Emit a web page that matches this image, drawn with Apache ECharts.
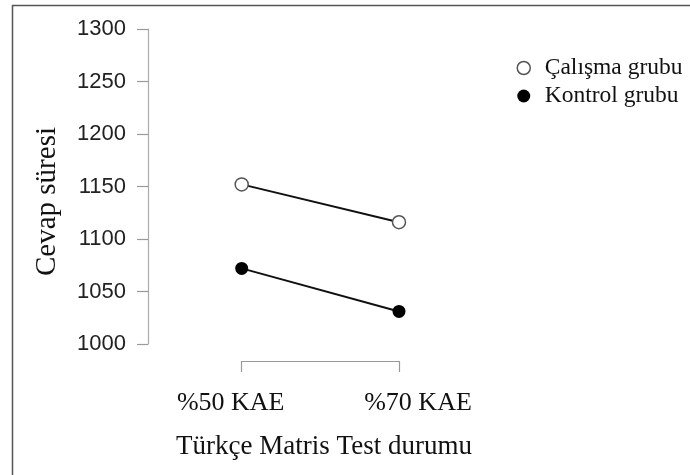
<!DOCTYPE html>
<html>
<head>
<meta charset="utf-8">
<script src="https://cdn.jsdelivr.net/npm/echarts@6/dist/echarts.min.js"></script>
<style>html,body{margin:0;padding:0;background:#fff;}#c{width:690px;height:475px;}</style>
</head>
<body>
<div id="c"></div>
<script>
var categories = ['%50 KAE', '%70 KAE'];
var seriesNames = ['Çalışma grubu', 'Kontrol grubu'];
var calismaValues = [1152, 1116];
var kontrolValues = [1072, 1031];
var yTicks = [1000, 1050, 1100, 1150, 1200, 1250, 1300];
var xTitle = 'Türkçe Matris Test durumu';
var yTitle = 'Cevap süresi';

var serif = '"Liberation Serif", "DejaVu Serif", serif';
var sans = '"Liberation Sans", Arial, sans-serif';

var labelPads = [[0, 22, 0, 0], [0, 0, 0, 38]];
var xData = categories.map(function (c, i) {
  return {value: c, textStyle: {padding: labelPads[i]}};
});

var chart = echarts.init(document.getElementById('c'), null, {renderer: 'canvas'});
chart.setOption({
  animation: false,
  backgroundColor: '#fff',
  grid: {left: 241.7, right: 291, top: 29, bottom: 131, containLabel: false},
  xAxis: {
    type: 'category',
    data: xData,
    boundaryGap: false,
    offset: 17,
    axisLine: {show: true, lineStyle: {color: '#999', width: 1.2}},
    axisTick: {show: true, length: 11, inside: false, alignWithLabel: true, lineStyle: {color: '#999', width: 1.2}},
    axisLabel: {fontFamily: serif, fontSize: 26, color: '#111', margin: 29},
    splitLine: {show: false}
  },
  yAxis: {
    type: 'value',
    min: yTicks[0],
    max: yTicks[yTicks.length - 1],
    interval: 50,
    offset: 93.7,
    axisLine: {show: true, lineStyle: {color: '#aaa', width: 1.2}},
    axisTick: {show: true, length: 11, lineStyle: {color: '#999', width: 1.2}},
    axisLabel: {fontFamily: sans, fontSize: 22, color: '#222', margin: 22, formatter: function (v) { return String(v); }},
    splitLine: {show: false}
  },
  legend: {
    orient: 'vertical',
    left: 511.5,
    top: 51,
    itemWidth: 13,
    itemHeight: 13,
    itemGap: 4,
    icon: 'circle',
    textStyle: {fontFamily: serif, fontSize: 23.5, color: '#111', lineHeight: 24, padding: [0, 0, 0, 9.5]},
    data: [
      {name: seriesNames[0], itemStyle: {color: '#fff', borderColor: '#555', borderWidth: 1.5}},
      {name: seriesNames[1], itemStyle: {color: '#000', borderColor: '#000', borderWidth: 0}}
    ]
  },
  graphic: [
    {type: 'line', shape: {x1: 12.5, y1: 5, x2: 12.5, y2: 475}, style: {stroke: '#555', lineWidth: 1.5}},
    {type: 'line', shape: {x1: 12, y1: 5.5, x2: 690, y2: 5.5}, style: {stroke: '#555', lineWidth: 1.5}},
    {type: 'text', x: 324, y: 447, style: {text: xTitle, font: '27px ' + serif, fill: '#111', textAlign: 'center', textVerticalAlign: 'middle'}},
    {type: 'text', x: 47, y: 201.5, rotation: Math.PI / 2, style: {text: yTitle, font: '29px ' + serif, fill: '#111', textAlign: 'center', textVerticalAlign: 'middle'}}
  ],
  series: [
    {
      name: seriesNames[0], type: 'line', data: calismaValues, clip: false,
      symbol: 'circle', symbolSize: 13,
      itemStyle: {color: '#fff', borderColor: '#555', borderWidth: 1.5},
      lineStyle: {color: '#111', width: 2},
      z: 3
    },
    {
      name: seriesNames[1], type: 'line', data: kontrolValues, clip: false,
      symbol: 'circle', symbolSize: 13,
      itemStyle: {color: '#000', borderColor: '#000', borderWidth: 0},
      lineStyle: {color: '#111', width: 2},
      z: 3
    }
  ]
});
</script>
</body>
</html>
